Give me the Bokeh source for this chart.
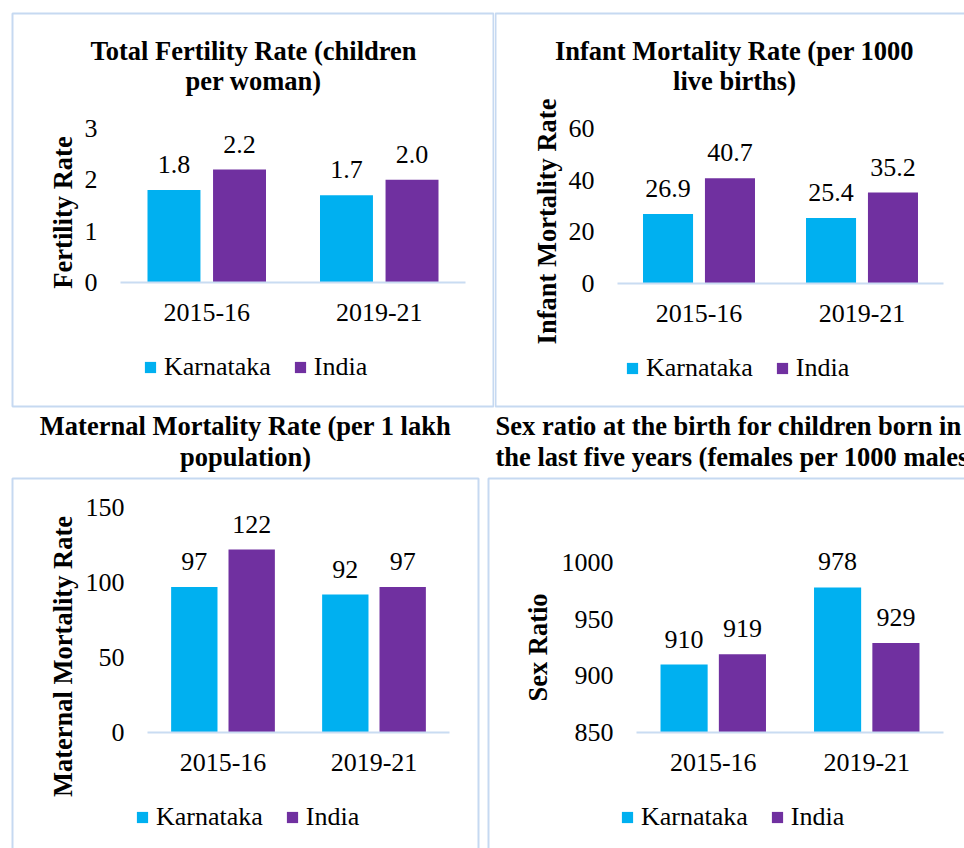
import math
from bokeh.plotting import figure
from bokeh.models import (ColumnDataSource, Range1d, Label, LabelSet,
                          BoxAnnotation, Legend, LegendItem, FixedTicker)
from bokeh.layouts import column, row
from bokeh.transform import dodge
from bokeh.core.properties import value
from bokeh.embed import file_html
from bokeh.resources import INLINE

# ---------------- data ----------------
periods = ["2015-16", "2019-21"]
series_names = ["Karnataka", "India"]

tfr_karnataka = [1.8, 1.7]
tfr_india = [2.2, 2.0]
imr_karnataka = [26.9, 25.4]
imr_india = [40.7, 35.2]
mmr_karnataka = [97, 92]
mmr_india = [122, 97]
srb_karnataka = [910, 978]
srb_india = [919, 929]

tfr_ticks = [0, 1, 2, 3]
imr_ticks = [0, 20, 40, 60]
mmr_ticks = [0, 50, 100, 150]
srb_ticks = [850, 900, 950, 1000]

# ---------------- style ----------------
C_KAR = "#00B0F0"
C_IND = "#7030A0"
C_BORDER = "#C6D9F1"
C_AXIS = "#C9DCF2"
FONT = "Liberation Serif"
FS = "26px"
FS_BOLD = "26.5px"
BAR_W = 0.307
OFF = 0.19


def panel(W, H, area, ticks, kar, ind, fmt, title_lines, title_pos, ytitle,
          ytitle_pos, box, legend_pos):
    """area = (plot-left px, plot-right px, px of lowest tick, px of highest tick),
    all in canvas pixels of this figure (origin top-left)."""
    PL, PR, Y0, Y1 = area
    n = len(periods)
    kx = (PR - PL) / n
    ky = (Y0 - Y1) / (ticks[-1] - ticks[0])
    x_range = Range1d(-PL / kx, n + (W - PR) / kx)
    y_range = Range1d(ticks[0] - (H - Y0) / ky, ticks[-1] + Y1 / ky)

    p = figure(width=W, height=H, x_range=x_range, y_range=y_range,
               output_backend="svg", toolbar_location=None, min_border=0)
    p.title.visible = False
    p.outline_line_color = None
    p.background_fill_color = "white"
    p.border_fill_color = "white"
    p.grid.visible = False

    xpos = [i + 0.5 for i in range(n)]
    src = ColumnDataSource(dict(xpos=xpos, kar=kar, ind=ind,
                                kar_lbl=[fmt.format(v) for v in kar],
                                ind_lbl=[fmt.format(v) for v in ind]))
    r1 = p.vbar(x=dodge("xpos", -OFF), top="kar", bottom=ticks[0],
                width=BAR_W, source=src, fill_color=C_KAR, line_color=None)
    r2 = p.vbar(x=dodge("xpos", OFF), top="ind", bottom=ticks[0],
                width=BAR_W, source=src, fill_color=C_IND, line_color=None)

    for xo, col in ((-OFF, "kar"), (OFF, "ind")):
        p.add_layout(LabelSet(x=dodge("xpos", xo), y=col,
                              text=col + "_lbl", source=src, text_align="center",
                              text_baseline="alphabetic", y_offset=17,
                              text_font=value(FONT), text_font_size=value(FS),
                              text_color="black"))

    # axes (drawn at the plot area's edges inside the panel)
    p.yaxis.fixed_location = 0
    p.yaxis.ticker = FixedTicker(ticks=ticks)
    p.yaxis.bounds = (ticks[0], ticks[-1])
    p.yaxis.axis_line_color = None
    p.yaxis.major_tick_line_color = None
    p.yaxis.minor_tick_line_color = None
    p.yaxis.major_tick_out = 0
    p.yaxis.major_tick_in = 0
    p.yaxis.major_label_standoff = 23
    p.yaxis.major_label_text_font = FONT
    p.yaxis.major_label_text_font_size = FS
    p.yaxis.major_label_text_color = "black"

    p.xaxis.fixed_location = ticks[0]
    p.xaxis.ticker = FixedTicker(ticks=xpos)
    p.xaxis.major_label_overrides = {xp: lab for xp, lab in zip(xpos, periods)}
    p.xaxis.bounds = (0, n)
    p.xaxis.axis_line_color = C_AXIS
    p.xaxis.axis_line_width = 2
    p.xaxis.major_tick_line_color = None
    p.xaxis.minor_tick_line_color = None
    p.xaxis.major_tick_out = 0
    p.xaxis.major_tick_in = 0
    p.xaxis.major_label_standoff = 21
    p.xaxis.major_label_text_font = FONT
    p.xaxis.major_label_text_font_size = FS
    p.xaxis.major_label_text_color = "black"

    # panel border
    bl, bt, br, bb = box
    p.add_layout(BoxAnnotation(left=bl, right=br, top=bt, bottom=bb,
                               left_units="canvas", right_units="canvas",
                               top_units="canvas", bottom_units="canvas",
                               fill_color=None, fill_alpha=0, line_color=C_BORDER,
                               line_alpha=1.0, line_width=2, level="underlay"))

    # title
    tx, ty1, ty2, talign = title_pos
    for txt, ty in zip(title_lines, (ty1, ty2)):
        p.add_layout(Label(x=tx, y=ty, x_units="canvas", y_units="canvas", text=txt,
                           text_align=talign, text_baseline="alphabetic",
                           text_font=FONT, text_font_size=FS_BOLD,
                           text_font_style="bold", text_color="black"))

    # y axis title
    yx, yy = ytitle_pos
    p.add_layout(Label(x=yx, y=yy, x_units="canvas", y_units="canvas", text=ytitle,
                       angle=math.pi / 2, text_align="center", text_baseline="middle",
                       text_font=FONT, text_font_size=FS_BOLD, text_font_style="bold",
                       text_color="black"))

    lx, lbottom = legend_pos
    legend = Legend(items=[LegendItem(label=series_names[0], renderers=[r1]),
                           LegendItem(label=series_names[1], renderers=[r2])],
                    location=(lx, H - lbottom), orientation="horizontal",
                    glyph_width=14, glyph_height=14, label_standoff=7, spacing=22,
                    padding=0, margin=0, border_line_color=None,
                    background_fill_alpha=0, label_text_font=FONT,
                    label_text_font_size=FS, label_text_color="black")
    p.add_layout(legend)
    return p


p1 = panel(494, 408, (120, 465, 282, 128), tfr_ticks, tfr_karnataka, tfr_india,
           "{:.1f}", ["Total Fertility Rate (children", "per woman)"],
           (253, 50, 80, "center"), "Fertility Rate", (62, 212),
           (12, 13, 493, 406), (143, 382))
p2 = panel(470, 408, (123, 449, 283, 128), imr_ticks, imr_karnataka, imr_india,
           "{:.1f}", ["Infant Mortality Rate (per 1000", "live births)"],
           (240, 50, 80, "center"), "Infant Mortality Rate", (52, 221),
           (1, 13, 490, 406), (131, 383))
p3 = panel(483, 440, (147, 449, 324, 99), mmr_ticks, mmr_karnataka, mmr_india,
           "{:d}", ["Maternal Mortality Rate (per 1 lakh", "population)"],
           (245, 17, 48, "center"), "Maternal Mortality Rate", (62, 248),
           (12, 70, 478, 460), (135, 424))
p4 = panel(481, 440, (153, 460, 324, 154), srb_ticks, srb_karnataka, srb_india,
           "{:d}", ["Sex ratio at the birth for children born in",
                    "the last five years (females per 1000 males)"],
           (12, 17, 48, "left"), "Sex Ratio", (54, 239),
           (5, 70, 500, 460), (137, 424))

layout = column(row(p1, p2, spacing=0), row(p3, p4, spacing=0), spacing=0)

open("out.html", "w").write(file_html(layout, INLINE))
